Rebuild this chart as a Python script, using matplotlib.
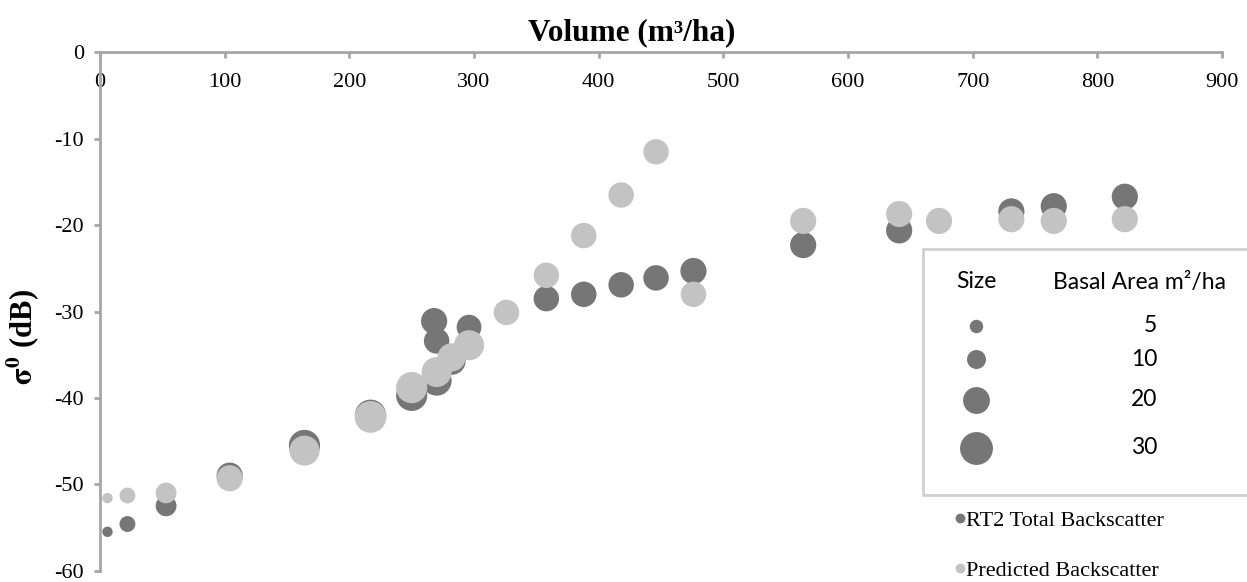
import matplotlib
matplotlib.use("Agg")
import matplotlib.pyplot as plt
from matplotlib.patches import Rectangle

# RT2 total backscatter (dark markers)
rt2_volume = [6, 22, 53, 104, 164, 217, 250, 268, 270, 270, 282, 296,
              358, 388, 418, 446, 476, 564, 641, 731, 765, 822]
rt2_sigma = [-55.5, -54.6, -52.5, -49.0, -45.5, -42.0, -39.7, -31.1, -33.4, -38.0, -35.7, -31.8,
             -28.5, -28.0, -26.9, -26.1, -25.3, -22.3, -20.6, -18.4, -17.8, -16.7]
rt2_basal = [3, 7, 12, 19, 27, 27, 27, 19, 18, 25, 22, 17,
             18, 18, 18, 18, 19, 19, 19, 19, 19, 19]

# Predicted backscatter (light markers)
pred_volume = [6, 22, 53, 104, 164, 217, 250, 270, 282, 296, 326,
               358, 388, 418, 446, 476, 564, 641, 673, 731, 765, 822]
pred_sigma = [-51.6, -51.3, -51.0, -49.3, -46.1, -42.2, -38.8, -37.0, -35.3, -33.9, -30.1,
              -25.8, -21.2, -16.5, -11.5, -28.0, -19.5, -18.7, -19.5, -19.3, -19.5, -19.3]
pred_basal = [3, 7, 12, 19, 25, 28, 27, 25, 22, 25, 18,
              18, 18, 18, 18, 18, 19, 19, 19, 19, 19, 19]

legend_basal = [5, 10, 20, 30]
series_labels = ["RT2 Total Backscatter", "Predicted Backscatter"]

DARK = "#767676"
LIGHT = "#C3C3C3"
AXIS = "#A6A6A6"
SIZE_K = 18.7  # marker area (pt^2) per m2/ha of basal area

plt.rcParams["font.family"] = ["Liberation Serif", "DejaVu Serif"]
plt.rcParams["mathtext.fontset"] = "stix"
plt.rcParams["axes.unicode_minus"] = False

fig = plt.figure(figsize=(12.47, 5.82), dpi=100)
ax = fig.add_axes([0.0802, 0.0195, 0.8998, 0.8903])

ax.scatter(rt2_volume, rt2_sigma, s=[b * SIZE_K for b in rt2_basal],
           color=DARK, linewidths=0, zorder=3, clip_on=False)
ax.scatter(pred_volume, pred_sigma, s=[b * SIZE_K for b in pred_basal],
           color=LIGHT, linewidths=0, zorder=4, clip_on=False)

ax.set_xlim(0, 900)
ax.set_ylim(-60, 0)
ax.set_xticks(range(0, 901, 100))
ax.set_yticks(range(-60, 1, 10))

# x axis crosses at y = 0 (top), labels hang below the line
ax.spines["top"].set_visible(False)
ax.spines["right"].set_visible(False)
ax.spines["bottom"].set_position(("data", 0))
for side in ["bottom", "left"]:
    ax.spines[side].set_color(AXIS)
    ax.spines[side].set_linewidth(2)
ax.tick_params(axis="both", color=AXIS, width=2, length=4.5, direction="out", labelsize=16)
ax.tick_params(axis="x", pad=10)
ax.tick_params(axis="y", pad=7)

fig.text(632 / 1247, 1 - 33 / 582, "Volume (m³/ha)", ha="center", va="center",
         fontsize=22.5, fontweight="bold")
ax.set_ylabel(r"$\mathbf{\sigma^0}$ (dB)", fontsize=22, fontweight="bold")
ax.yaxis.set_label_coords(-0.052, 0.45)

# size legend box + series legend, drawn in pixel coordinates of the figure
lg = fig.add_axes([0, 0, 1, 1])
lg.set_xlim(0, 1247)
lg.set_ylim(582, 0)
lg.axis("off")
lg.patch.set_visible(False)

lg.add_patch(Rectangle((923, 249), 340, 246, facecolor="white", edgecolor="#D0D0D0",
                       linewidth=2, zorder=1))
box_font = dict(family=["Lato", "DejaVu Sans"], fontsize=16.5)
lg.text(976, 282, "Size", ha="center", va="center", **box_font, zorder=2)
lg.text(1053, 282, "Basal Area m²/ha", ha="left", va="center", **box_font, zorder=2)
row_y = [326, 359, 400, 448]
for b, y in zip(legend_basal, row_y):
    lg.scatter([976], [y], s=b * SIZE_K, color=DARK, linewidths=0, zorder=3)
    lg.text(1157, y, str(b), ha="right", va="center", **box_font, zorder=3)

for lab, col, y in zip(series_labels, [DARK, LIGHT], [521, 571]):
    lg.scatter([960], [y - 3], s=50, color=col, linewidths=0, zorder=3)
    lg.text(966, y, lab, ha="left", va="center", fontsize=16, zorder=3)

fig.savefig("out.png", dpi=100)
